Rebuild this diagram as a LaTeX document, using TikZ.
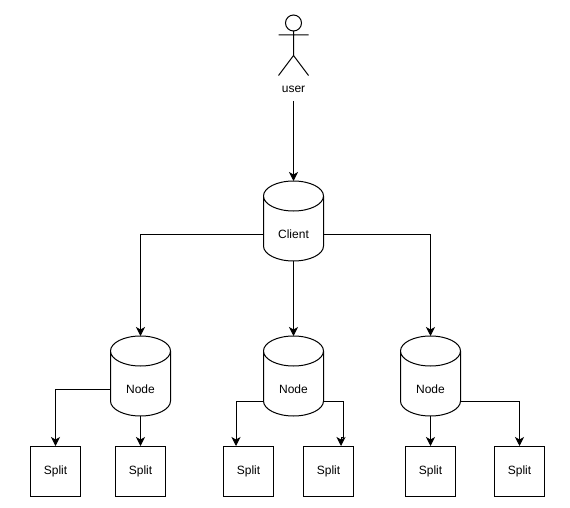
\documentclass[tikz,border=0pt]{standalone}
\usepackage{fontspec}
\setmainfont{Liberation Sans}
\usetikzlibrary{arrows.meta,calc}
\tikzset{
  x=1pt,y=-1pt,
  every path/.style={line width=1pt},
  cyl/.style={minimum width=60pt,minimum height=80pt,inner sep=0pt,outer sep=0pt,
    label={[font=\fontsize{12}{14}\selectfont,yshift=-13.7pt,inner sep=0pt]center:#1}},
  cylline/.style={draw=black,line width=1pt},
  splitbox/.style={draw=black,line width=1pt,minimum width=50pt,minimum height=50pt,inner sep=0pt,outer sep=0pt,font=\fontsize{12}{14}\selectfont},
  conn/.style={draw=black,line width=1pt,-{Stealth[length=9pt,width=9pt,inset=2.5pt]}},
  person/.style={draw=black,line width=1pt},
  lbl/.style={font=\fontsize{12}{14}\selectfont,inner sep=0pt}
}
\newcommand{\drawcyl}[1]{%
  \draw[cylline] ([yshift=-15pt]#1.north west)
    arc[start angle=180,end angle=360,x radius=30pt,y radius=15pt]
    arc[start angle=0,end angle=180,x radius=30pt,y radius=15pt]
    -- ([yshift=15pt]#1.south west)
    arc[start angle=180,end angle=360,x radius=30pt,y radius=15pt]
    -- ([yshift=-15pt]#1.north east);}
\newcommand{\splittext}{\raisebox{-0.7pt}{Split}}
\begin{document}
\begin{tikzpicture}
\useasboundingbox (0,0) rectangle (570,508);
\fill[white] (0,0) rectangle (570,508);
% actor
\node[person,circle,minimum size=16pt,inner sep=0pt,outer sep=0pt] (head) at (293.5,23) {};
\node[lbl] (user) at (293.5,89.7) {user};
\coordinate (hip) at (293.5,55.5);
\coordinate (armL) at (278.5,35);
\coordinate (armR) at (308.5,35);
\coordinate (legL) at (278.5,75.5);
\coordinate (legR) at (308.5,75.5);
\coordinate (userout) at (293.5,101);
\draw[person] (head.south) -- (hip) (armL) -- (armR) (legL) -- (hip) -- (legR);
% cylinders
\node[cyl=Client] (client) at (293.5,221) {};
\node[cyl=Node] (n1) at (140.5,376) {};
\node[cyl=Node] (n2) at (293.5,376) {};
\node[cyl=Node] (n3) at (430.5,376) {};
\drawcyl{client}
\drawcyl{n1}
\drawcyl{n2}
\drawcyl{n3}
% splits
\node[splitbox] (s1) at (55.5,471) {\splittext};
\node[splitbox] (s2) at (140.5,471) {\splittext};
\node[splitbox] (s3) at (248.5,471) {\splittext};
\node[splitbox] (s4) at (328.5,471) {\splittext};
\node[splitbox] (s5) at (430.5,471) {\splittext};
\node[splitbox] (s6) at (519.5,471) {\splittext};
% connectors
\draw[conn] (userout) -- (client.north);
\draw[conn] ([yshift=-13pt]client.west) -| (n1.north);
\draw[conn] (client.south) -- (n2.north);
\draw[conn] ([yshift=-13pt]client.east) -| (n3.north);
\draw[conn] ([yshift=-13pt]n1.west) -| (s1.north);
\draw[conn] (n1.south) -- (s2.north);
\draw[conn] ([yshift=-25pt]n2.west) -| ([xshift=-12.5pt]s3.north);
\coordinate (jogA) at (343.5,437);
\coordinate (jogB) at (341,437);
\draw[conn] ([yshift=-25pt]n2.east) -| (jogA) -- (jogB) -- ([xshift=12.5pt]s4.north);
\draw[conn] (n3.south) -- (s5.north);
\draw[conn] ([yshift=-25pt]n3.east) -| (s6.north);
\end{tikzpicture}
\end{document}
